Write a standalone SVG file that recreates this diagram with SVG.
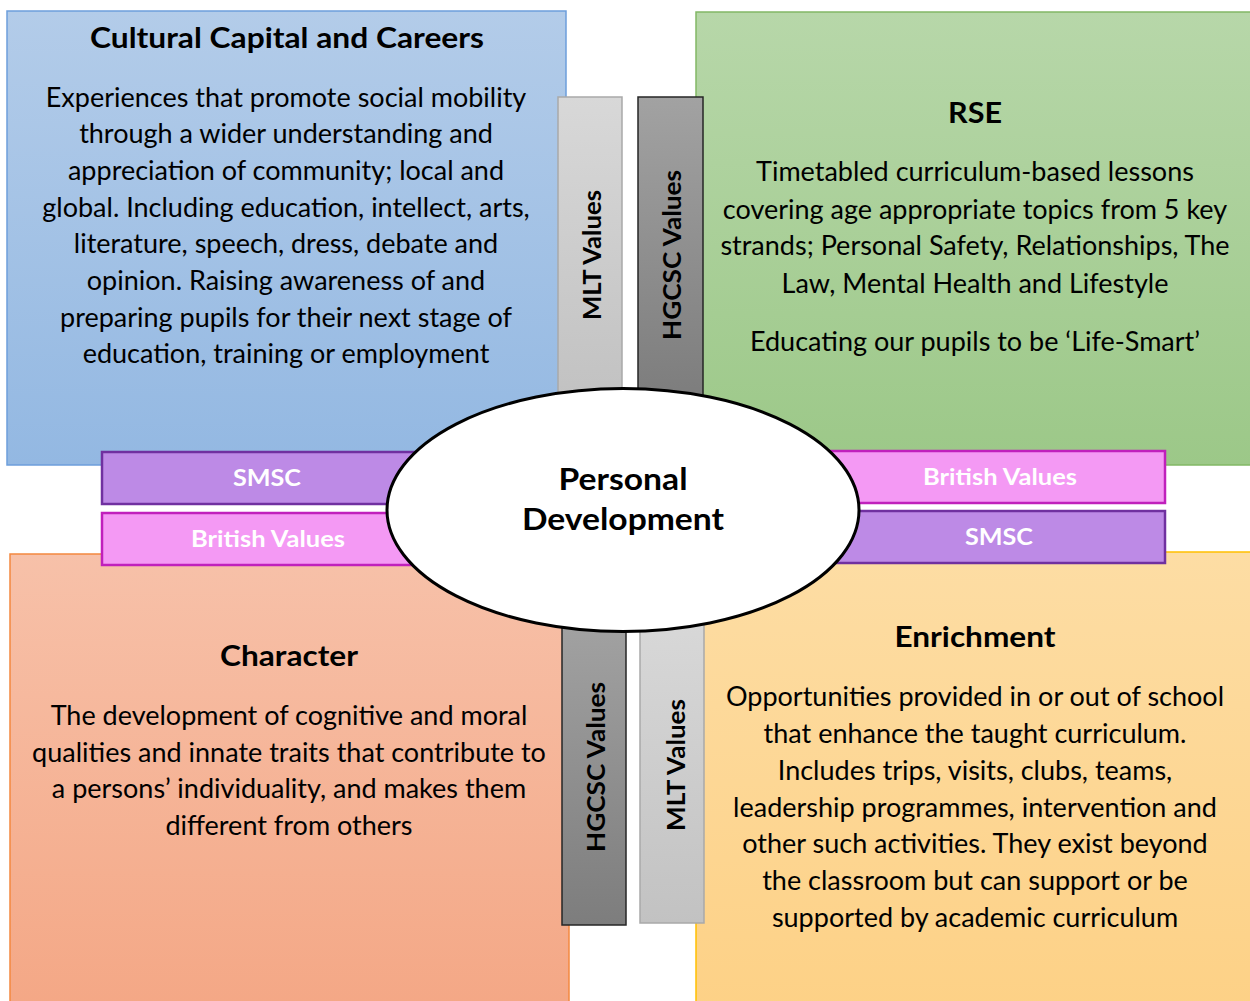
<svg xmlns="http://www.w3.org/2000/svg" width="1250" height="1001" viewBox="0 0 1250 1001">
<defs>
<linearGradient id="gBlue" x1="0" y1="0" x2="0" y2="1"><stop offset="0" stop-color="#b3cce9"/><stop offset="1" stop-color="#93b8e2"/></linearGradient>
<linearGradient id="gGreen" x1="0" y1="0" x2="0" y2="1"><stop offset="0" stop-color="#b7d7a9"/><stop offset="1" stop-color="#9cc888"/></linearGradient>
<linearGradient id="gOrange" x1="0" y1="0" x2="0" y2="1"><stop offset="0" stop-color="#f7c1a9"/><stop offset="1" stop-color="#f4a785"/></linearGradient>
<linearGradient id="gYellow" x1="0" y1="0" x2="0" y2="1"><stop offset="0" stop-color="#fddda4"/><stop offset="1" stop-color="#fdd186"/></linearGradient>
<linearGradient id="gLight" x1="0" y1="0" x2="0" y2="1"><stop offset="0" stop-color="#d8d8d8"/><stop offset="1" stop-color="#c2c2c2"/></linearGradient>
<linearGradient id="gDark" x1="0" y1="0" x2="0" y2="1"><stop offset="0" stop-color="#a2a2a2"/><stop offset="1" stop-color="#7d7d7d"/></linearGradient>
</defs>
<style>
text{font-family:Lato,"Open Sans","Liberation Sans",sans-serif;fill:#000;text-anchor:middle}
.title{font-size:28px;font-weight:bold}
.body{font-size:27px}
.vlab{font-size:25px;font-weight:bold}
.hlab{font-size:23px;font-weight:bold;fill:#fff}
.center{font-size:31px;font-weight:bold}
.smsc{fill:#bd8ae6;stroke:#7030a0;stroke-width:2.5}
.brit{fill:#f499f4;stroke:#c020bc;stroke-width:2.5}
.light{fill:url(#gLight);stroke:#a9a9a9;stroke-width:1.5}
.dark{fill:url(#gDark);stroke:#262626;stroke-width:1.5}
</style>
<rect width="1250" height="1001" fill="#fff"/>
<g id="cultural">
<rect x="7" y="11" width="559" height="454" fill="url(#gBlue)" stroke="#6d9edb" stroke-width="1.5"/>
<text class="title" x="287" y="48" textLength="394" lengthAdjust="spacingAndGlyphs">Cultural Capital and Careers</text>
<text class="body" x="286"><tspan x="286" y="107">Experiences that promote social mobility</tspan><tspan x="286" y="143">through a wider understanding and</tspan><tspan x="286" y="180">appreciation of community; local and</tspan><tspan x="286" y="217">global. Including education, intellect, arts,</tspan><tspan x="286" y="253">literature, speech, dress, debate and</tspan><tspan x="286" y="290">opinion. Raising awareness of and</tspan><tspan x="286" y="327">preparing pupils for their next stage of</tspan><tspan x="286" y="363">education, training or employment</tspan></text>
</g>
<g id="rse">
<rect x="696" y="12" width="560" height="453" fill="url(#gGreen)" stroke="#82b865" stroke-width="1.5"/>
<text class="title" x="975" y="123" textLength="54" lengthAdjust="spacingAndGlyphs">RSE</text>
<text class="body" x="975"><tspan x="975" y="181">Timetabled curriculum-based lessons</tspan><tspan x="975" y="219">covering age appropriate topics from 5 key</tspan><tspan x="975" y="255">strands; Personal Safety, Relationships, The</tspan><tspan x="975" y="293">Law, Mental Health and Lifestyle</tspan><tspan x="975" y="351">Educating our pupils to be ‘Life-Smart’</tspan></text>
</g>
<g id="character">
<rect x="10" y="554" width="559" height="460" fill="url(#gOrange)" stroke="#f4883f" stroke-width="1.5"/>
<text class="title" x="289" y="666" textLength="138" lengthAdjust="spacingAndGlyphs">Character</text>
<text class="body" x="289"><tspan x="289" y="725">The development of cognitive and moral</tspan><tspan x="289" y="762">qualities and innate traits that contribute to</tspan><tspan x="289" y="798">a persons’ individuality, and makes them</tspan><tspan x="289" y="835">different from others</tspan></text>
</g>
<g id="enrichment">
<rect x="696" y="552" width="560" height="460" fill="url(#gYellow)" stroke="#ffc000" stroke-width="1.5"/>
<text class="title" x="975" y="647" textLength="161" lengthAdjust="spacingAndGlyphs">Enrichment</text>
<text class="body" x="975"><tspan x="975" y="706">Opportunities provided in or out of school</tspan><tspan x="975" y="743">that enhance the taught curriculum.</tspan><tspan x="975" y="780">Includes trips, visits, clubs, teams,</tspan><tspan x="975" y="817">leadership programmes, intervention and</tspan><tspan x="975" y="853">other such activities. They exist beyond</tspan><tspan x="975" y="890">the classroom but can support or be</tspan><tspan x="975" y="927">supported by academic curriculum</tspan></text>
</g>
<g id="mlt-top">
<rect class="light" x="558" y="97" width="64" height="300"/>
<text class="vlab" transform="translate(601,255) rotate(-90)" textLength="130" lengthAdjust="spacingAndGlyphs">MLT Values</text>
</g>
<g id="hgcsc-top">
<rect class="dark" x="638" y="97" width="65" height="300"/>
<text class="vlab" transform="translate(681,255) rotate(-90)" textLength="170" lengthAdjust="spacingAndGlyphs">HGCSC Values</text>
</g>
<g id="hgcsc-bottom">
<rect class="dark" x="562" y="620" width="64" height="305"/>
<text class="vlab" transform="translate(605,767) rotate(-90)" textLength="170" lengthAdjust="spacingAndGlyphs">HGCSC Values</text>
</g>
<g id="mlt-bottom">
<rect class="light" x="640" y="620" width="64" height="303"/>
<text class="vlab" transform="translate(685,765) rotate(-90)" textLength="132" lengthAdjust="spacingAndGlyphs">MLT Values</text>
</g>
<g id="smsc-left">
<rect class="smsc" x="102" y="452" width="330" height="52"/>
<text class="hlab" x="267" y="486" textLength="68" lengthAdjust="spacingAndGlyphs">SMSC</text>
</g>
<g id="british-left">
<rect class="brit" x="102" y="513" width="330" height="52"/>
<text class="hlab" x="268" y="547" textLength="154" lengthAdjust="spacingAndGlyphs">British Values</text>
</g>
<g id="british-right">
<rect class="brit" x="820" y="451" width="345" height="52"/>
<text class="hlab" x="1000" y="485" textLength="154" lengthAdjust="spacingAndGlyphs">British Values</text>
</g>
<g id="smsc-right">
<rect class="smsc" x="820" y="511" width="345" height="52"/>
<text class="hlab" x="999" y="545" textLength="68" lengthAdjust="spacingAndGlyphs">SMSC</text>
</g>
<g id="personal-development">
<ellipse cx="623" cy="510" rx="236" ry="121.5" fill="#fff" stroke="#000" stroke-width="3"/>
<text class="center" x="623" y="490" textLength="129" lengthAdjust="spacingAndGlyphs">Personal</text>
<text class="center" x="623" y="530" textLength="202" lengthAdjust="spacingAndGlyphs">Development</text>
</g>
<g id="connectors"></g>
</svg>
